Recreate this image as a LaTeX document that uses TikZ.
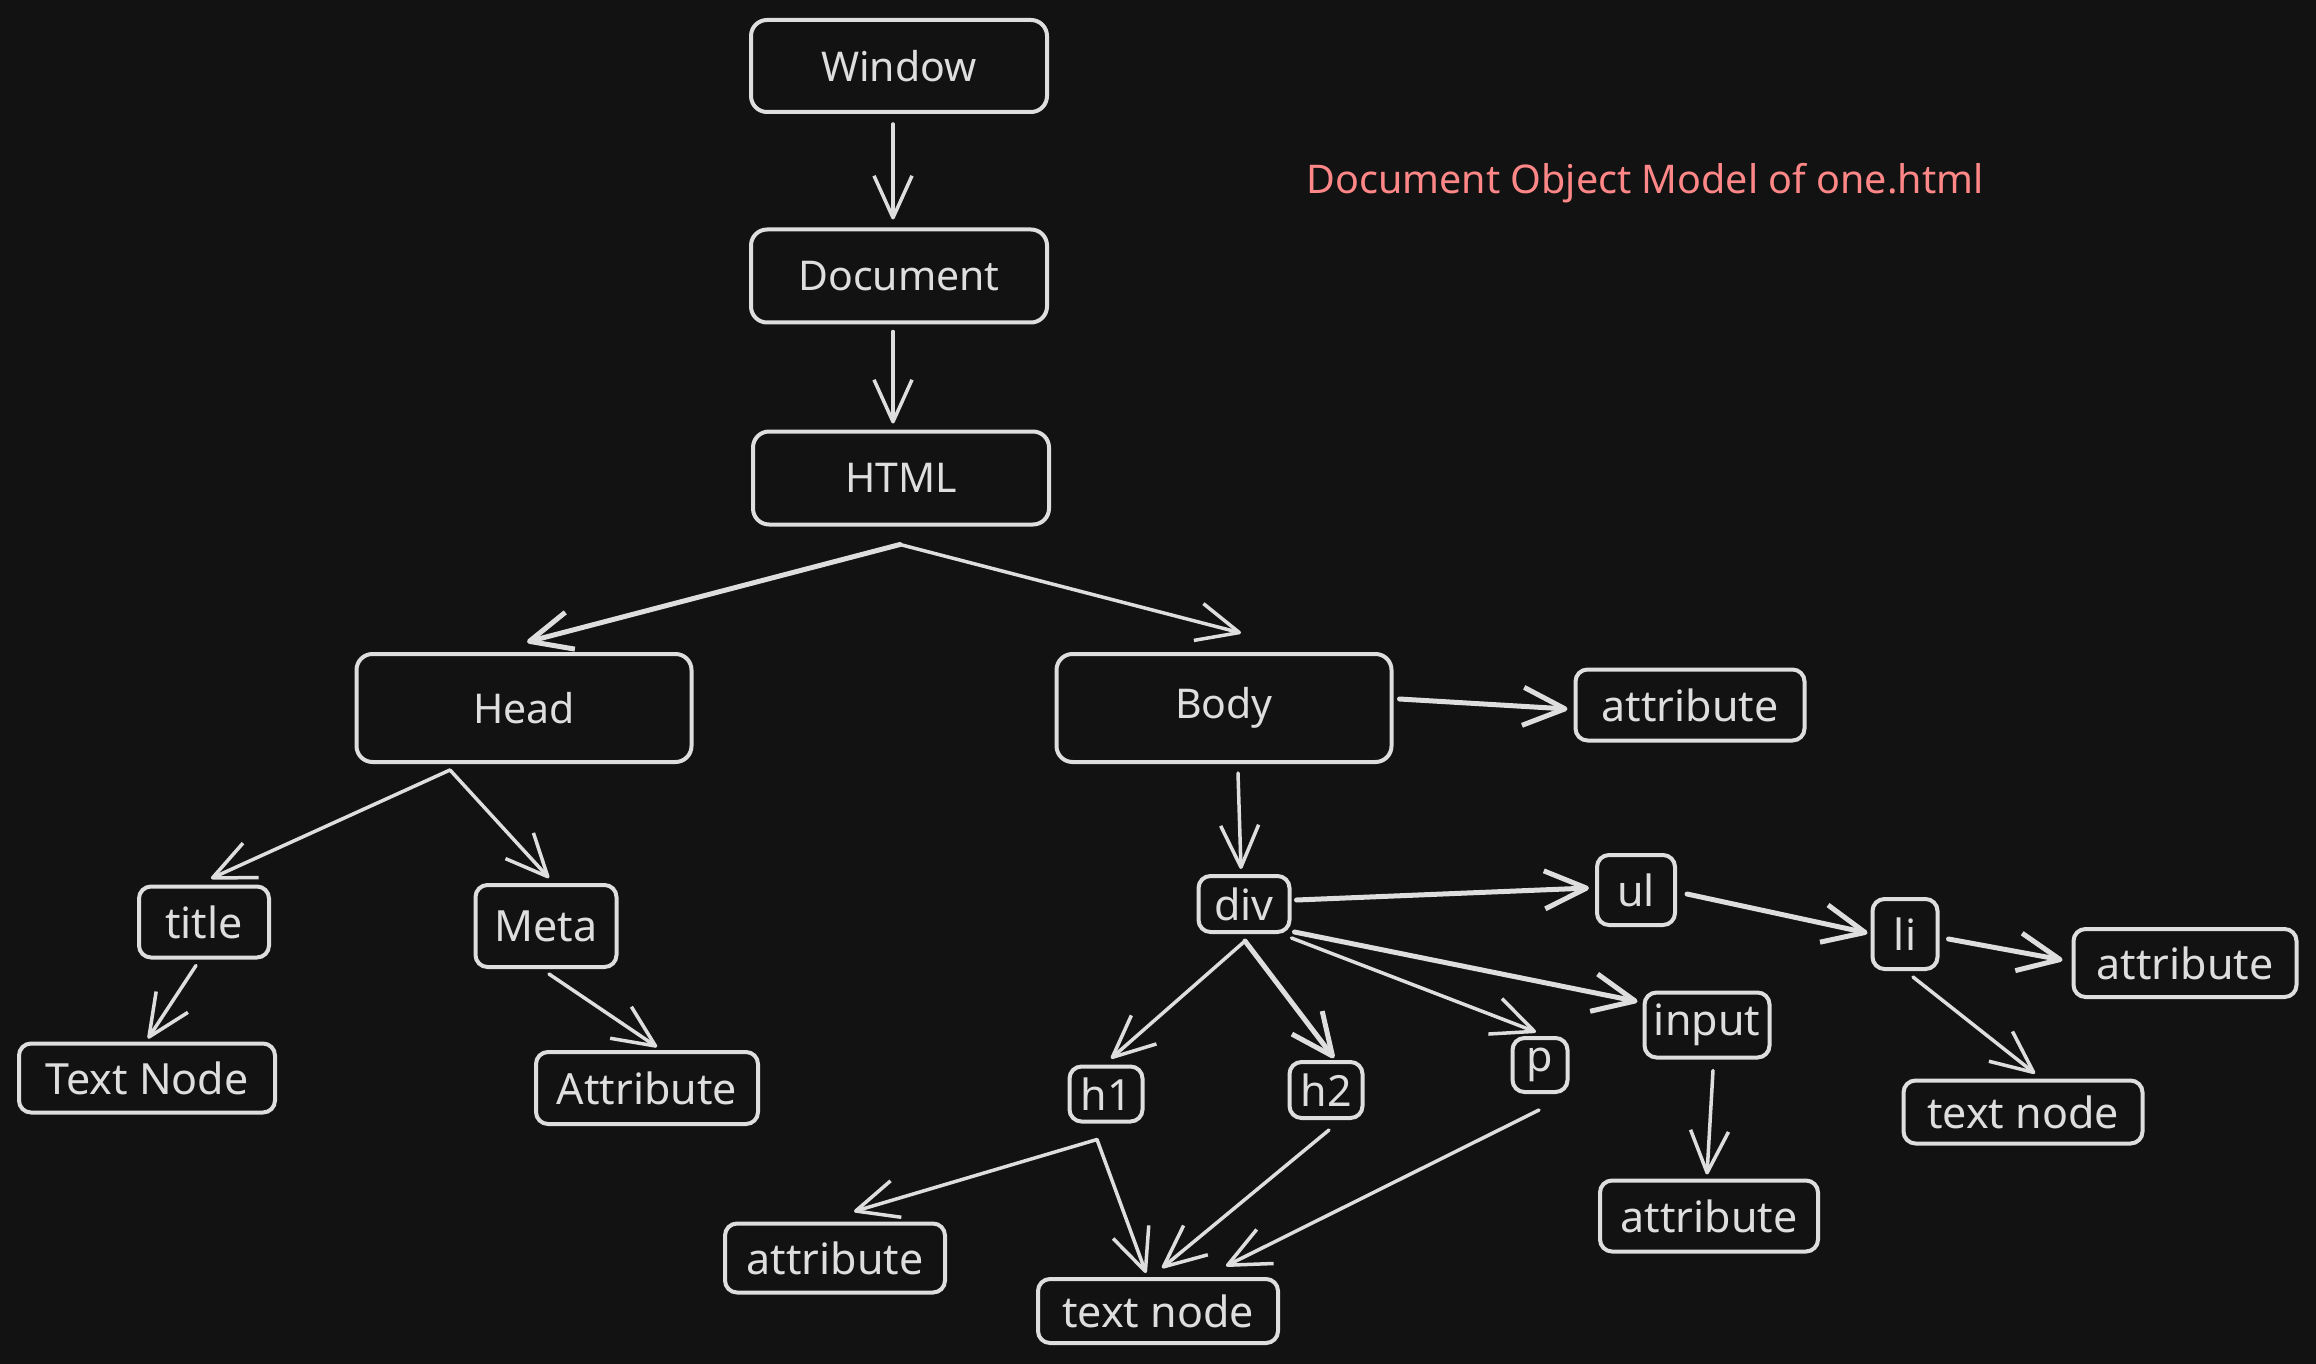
\documentclass[tikz,border=0pt]{standalone}
\usepackage{fontspec}
\setmainfont{Noto Sans}
\usetikzlibrary{arrows.meta,calc}
\definecolor{bg}{RGB}{18,18,18}
\definecolor{ink}{RGB}{222,222,222}
\definecolor{salmon}{RGB}{255,135,135}
\begin{document}
\begin{tikzpicture}[x=1pt,y=-1pt,
  box/.style={draw=ink,line width=4pt,fill=bg,rounded corners=16pt,text=ink,inner sep=0pt,font=\fontsize{41}{48}\selectfont},
  sbox/.style={box,rounded corners=12pt,font=\fontsize{43}{50}\selectfont},
  arr/.style={draw=ink,line width=3.5pt,line cap=round,-{Straight Barb[length=42pt,width=38pt,line join=round]}},
  thickarr/.style={arr,line width=5pt}]
\fill[bg] (0,0) rectangle (2316,1364);
\useasboundingbox (0,0) rectangle (2316,1364);

% title
\node[text=salmon,font=\fontsize{39.5}{46}\selectfont] (ttl) at (1645,183) {Document Object Model of one.html};

% main chain
\node[box,minimum width=296pt,minimum height=92pt] (win) at (899,66) {Window};
\node[box,minimum width=296pt,minimum height=93pt] (doc) at (899,276) {Document};
\node[box,minimum width=296pt,minimum height=93pt] (html) at (901,478) {HTML};
\node[box,minimum width=335pt,minimum height=108pt] (head) at (524,708) {Head};
\node[box,minimum width=335pt,minimum height=108pt] (body) at (1224,708) {Body};
\node[sbox,minimum width=229pt,minimum height=71pt] (battr) at (1690,705) {attribute};

% head subtree
\node[sbox,minimum width=130pt,minimum height=71pt] (title) at (204,922) {title};
\node[sbox,minimum width=141pt,minimum height=82pt] (meta) at (546,926) {Meta};
\node[sbox,minimum width=256pt,minimum height=69pt] (tnode) at (147,1078) {Text Node};
\node[sbox,minimum width=222pt,minimum height=72pt] (mattr) at (647,1088) {Attribute};

% body subtree
\node[sbox,minimum width=91pt,minimum height=56pt] (div) at (1244,904) {div};
\node[sbox,minimum width=78pt,minimum height=70pt] (ul) at (1636,890) {ul};
\node[sbox,minimum width=65pt,minimum height=70pt] (li) at (1905,934) {li};
\node[sbox,minimum width=223pt,minimum height=68pt] (liattr) at (2185,963) {attribute};
\node[sbox,minimum width=239pt,minimum height=63pt] (litext) at (2023,1112) {text node};
\node[sbox,minimum width=125pt,minimum height=65pt] (input) at (1707,1025) {input};
\node[sbox,minimum width=218pt,minimum height=71pt] (inattr) at (1709,1216) {attribute};
\node[sbox,minimum width=55pt,minimum height=54pt] (p) at (1540,1065) {p};
\node[sbox,minimum width=73pt,minimum height=55pt] (h1) at (1106,1094) {h1};
\node[sbox,minimum width=73pt,minimum height=56pt] (h2) at (1326,1090) {h2};
\node[sbox,minimum width=220pt,minimum height=69pt] (h1attr) at (835,1258) {attribute};
\node[sbox,minimum width=240pt,minimum height=64pt] (btext) at (1158,1311) {text node};

% connectors
\draw[arr] ($(win.south)+(-6,10)$) -- ($(doc.north)+(-6,-8)$);
\draw[arr] ($(doc.south)+(-6,7)$) -- ($(html.north)+(-8,-6)$);
\coordinate (hfork) at ($(html.south)+(-1,18)$);
\draw[thickarr] (hfork) -- ($(head.north)+(3,-10)$);
\draw[arr] (hfork) -- ($(body.north)+(17,-19)$);
\draw[thickarr] ($(body.east)+(6,-9)$) -- ($(battr.west)+(-6,4)$);
\coordinate (headfork) at ($(head.south)+(-74,6)$);
\draw[arr] (headfork) -- ($(title.north)+(7,-6)$);
\draw[arr] (headfork) -- ($(meta.north)+(3,-5)$);
\draw[arr] ($(title.south)+(-8,6)$) -- ($(tnode.north)+(1,-3)$);
\draw[arr] ($(meta.south)+(3,5)$) -- ($(mattr.north)+(10,-3)$);
\draw[arr] ($(body.south)+(14,9)$) -- ($(div.north)+(-3,-5)$);
\draw[thickarr] ($(div.east)+(5,-4)$) -- ($(ul.west)+(-6,-2)$);
\draw[thickarr] ($(ul.east)+(10,4)$) -- ($(li.west)+(-3,-1)$);
\draw[thickarr] ($(li.east)+(9,5)$) -- ($(liattr.west)+(-9,-3)$);
\draw[arr] ($(li.south)+(8,6)$) -- ($(litext.north)+(12,-5)$);
\draw[thickarr] ($(div.south east)+(3,-2)$) -- ($(input.north west)+(-5,11)$);
\draw[arr] ($(div.south east)+(0,4)$) -- ($(p.north)+(-4,-4)$);
\coordinate (divfork) at ($(div.south)+(1,7)$);
\draw[thickarr] (divfork) -- ($(h2.north)+(8,-2)$);
\draw[arr] (divfork) -- ($(h1.north)+(5,-6)$);
\draw[arr] ($(input.south)+(6,11)$) -- ($(inattr.north)+(-2,-4)$);
\coordinate (h1fork) at ($(h1.south)+(-9,16)$);
\draw[arr] (h1fork) -- ($(h1attr.north)+(19,-10)$);
\draw[arr] (h1fork) -- ($(btext.north)+(-12,-4)$);
\draw[arr] ($(h2.south)+(3,10)$) -- ($(btext.north)+(4,-9)$);
\draw[arr] ($(p.south)+(-1,16)$) -- ($(btext.north)+(68,-11)$);
\end{tikzpicture}
\end{document}
